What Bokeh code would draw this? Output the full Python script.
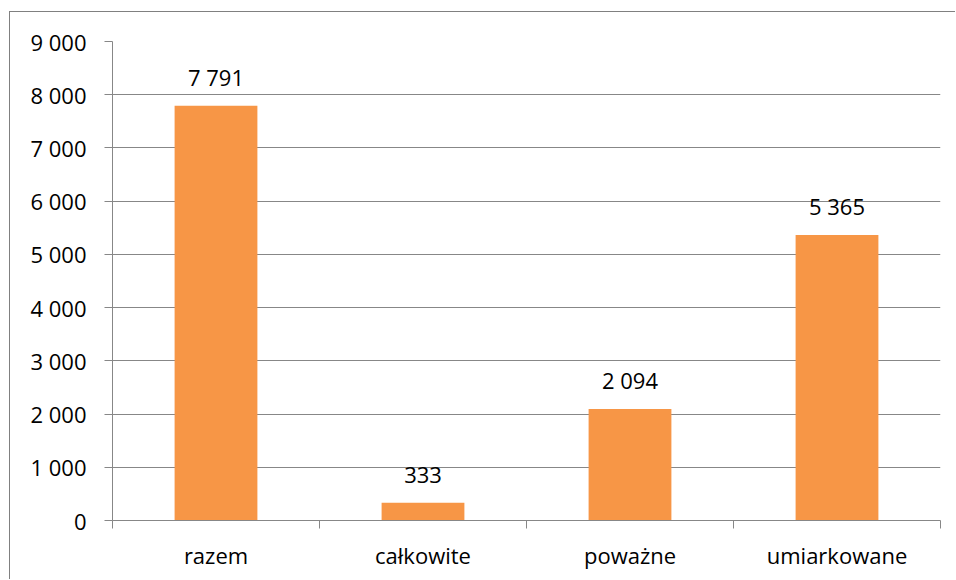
from bokeh.plotting import figure
from bokeh.models import ColumnDataSource, LabelSet, FixedTicker, Range1d
from bokeh.core.properties import value
from bokeh.embed import file_html
from bokeh.resources import INLINE

categories = ["razem", "całkowite", "poważne", "umiarkowane"]
values = [7791, 333, 2094, 5365]
y_ticks = [0, 1000, 2000, 3000, 4000, 5000, 6000, 7000, 8000, 9000]
y_tick_labels = ["0", "1 000", "2 000", "3 000", "4 000", "5 000", "6 000", "7 000", "8 000", "9 000"]

FONT = "Open Sans"
FS = "22px"
GRAY = "#878787"
ORANGE = "#F79646"

xs = [i + 0.5 for i in range(len(categories))]
value_labels = [f"{v:,}".replace(",", " ") for v in values]
src = ColumnDataSource(dict(x=xs, top=values, lab=value_labels))

p = figure(width=946, height=568, output_backend="svg", toolbar_location=None,
           x_range=Range1d(0, len(categories)), y_range=Range1d(0, 9000),
           min_border_left=102, min_border_right=16, min_border_top=29, min_border_bottom=60)
p.margin = (11, 0, 0, 9)
p.styles = {"border-left": "1px solid #808080", "border-top": "1px solid #808080"}
p.outline_line_color = None
p.background_fill_color = "white"
p.border_fill_color = "white"

p.vbar(x="x", top="top", width=0.4, bottom=0, source=src, fill_color=ORANGE, line_color=None)

labels = LabelSet(x="x", y="top", text="lab", source=src, text_align="center",
                  text_baseline="alphabetic", y_offset=20, text_font=value(FONT),
                  text_font_size=value(FS), text_color="black")
p.add_layout(labels)

# y axis
p.yaxis.ticker = FixedTicker(ticks=y_ticks)
p.yaxis.major_label_overrides = {t: l for t, l in zip(y_ticks, y_tick_labels)}
p.yaxis.axis_line_color = GRAY
p.yaxis.major_tick_line_color = GRAY
p.yaxis.major_tick_out = 8
p.yaxis.major_tick_in = 0
p.yaxis.minor_tick_line_color = None
p.yaxis.major_label_standoff = 18
p.yaxis.major_label_text_font = FONT
p.yaxis.major_label_text_font_size = FS
p.yaxis.major_label_text_color = "black"

# x axis
p.xaxis.ticker = FixedTicker(ticks=xs, minor_ticks=list(range(len(categories) + 1)))
p.xaxis.major_label_overrides = {x: c for x, c in zip(xs, categories)}
p.xaxis.axis_line_color = GRAY
p.xaxis.major_tick_line_color = None
p.xaxis.major_tick_out = 0
p.xaxis.major_tick_in = 0
p.xaxis.minor_tick_line_color = GRAY
p.xaxis.minor_tick_out = 8
p.xaxis.minor_tick_in = 0
p.xaxis.major_label_standoff = 11
p.xaxis.major_label_text_font = FONT
p.xaxis.major_label_text_font_size = FS
p.xaxis.major_label_text_color = "black"

p.xgrid.grid_line_color = None
p.ygrid.grid_line_color = GRAY
p.ygrid.grid_line_width = 1

open("out.html", "w").write(file_html(p, INLINE))
